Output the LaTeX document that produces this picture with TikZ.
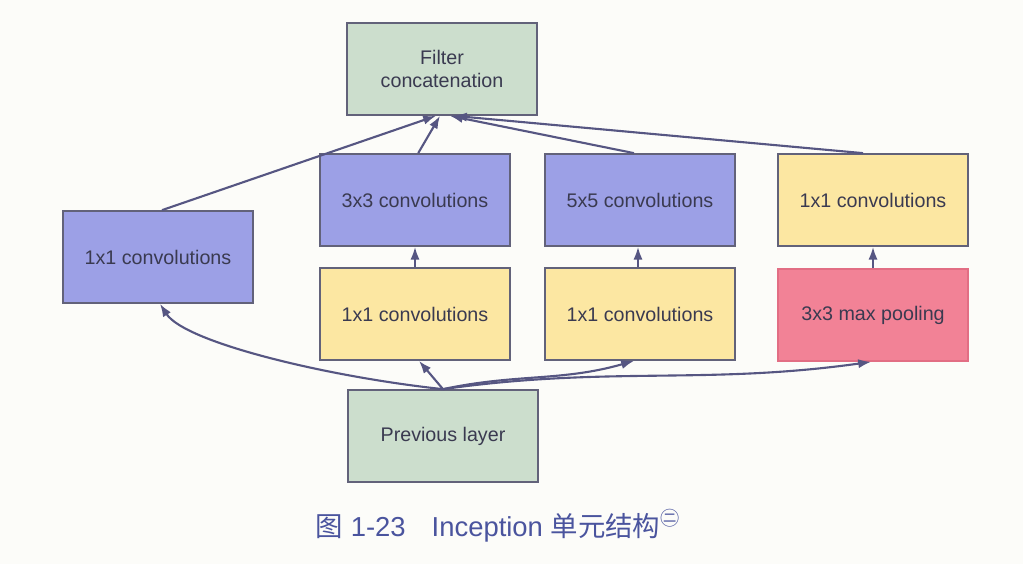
\documentclass[tikz,border=0pt]{standalone}
\usepackage{fontspec}
\setmainfont{Liberation Sans}
\newfontfamily\cjk{Noto Sans CJK SC}
\usetikzlibrary{arrows.meta}
\definecolor{bggray}{RGB}{252,252,249}
\definecolor{edgegray}{RGB}{98,98,122}
\definecolor{arrowgray}{RGB}{86,86,130}
\definecolor{textgray}{RGB}{58,58,80}
\definecolor{layergreen}{RGB}{204,222,205}
\definecolor{convblue}{RGB}{156,160,230}
\definecolor{convyellow}{RGB}{252,231,162}
\definecolor{poolpink}{RGB}{242,130,150}
\definecolor{pooledge}{RGB}{226,110,132}
\definecolor{captionblue}{RGB}{74,84,158}
\begin{document}
\begin{tikzpicture}[x=0.025cm, y=-0.025cm,
    box/.style = {draw=edgegray, line width=1.2pt, text=textgray, font=\fontsize{14}{17}\selectfont,
                  minimum width=4.75cm, minimum height=2.3cm, inner sep=0pt, align=center},
    green/.style = {box, fill=layergreen},
    blue/.style = {box, fill=convblue},
    yellow/.style = {box, fill=convyellow},
    pool/.style = {box, fill=poolpink, draw=pooledge},
    link/.style = {draw=arrowgray, line width=1.5pt, -{Latex[length=3.2mm,width=2.3mm]}}]
    \fill[bggray] (0,0) rectangle (1023,564);
    \useasboundingbox (0,0) rectangle (1023,564);
		\node[green] (concat) at (442,69) {Filter\\concatenation};
		\node[blue] (c1l) at (158,257) {1x1 convolutions};
		\node[blue] (c3) at (415,200) {3x3 convolutions};
		\node[blue] (c5) at (640,200) {5x5 convolutions};
		\node[yellow] (c1r) at (873,200) {1x1 convolutions};
		\node[yellow] (r3) at (415,314) {1x1 convolutions};
		\node[yellow] (r5) at (640,314) {1x1 convolutions};
		\node[pool] (mp) at (873,315) {3x3 max pooling};
		\node[green] (prev) at (443,436) {Previous layer};
		% from the previous layer
		\draw[link] (prev.north) .. controls +(-113,-12) and +(25,39) .. ([xshift=0.05cm]c1l.south);
		\draw[link] (prev.north) -- ([xshift=0.1cm]r3.south);
		\draw[link] (prev.north) to[out=12,in=196] ([xshift=-0.15cm]r5.south);
		\draw[link] (prev.north) to[out=8,in=188] ([xshift=-0.05cm]mp.south);
		% reductions
		\draw[link] (r3) -- (c3);
		\draw[link] ([xshift=-0.05cm]r5.north) -- ([xshift=-0.05cm]c5.north |- c5.south);
		\draw[link] (mp) -- (c1r);
		% into the concatenation
		\draw[link] ([xshift=0.1cm]c1l.north) -- ([xshift=-0.15cm]concat.south);
		\draw[link] ([xshift=0.08cm]c3.north) -- ([xshift=-0.05cm]concat.south);
		\draw[link] ([xshift=-0.15cm]c5.north) -- ([xshift=0.2cm]concat.south);
		\draw[link] ([xshift=-0.25cm]c1r.north) -- ([xshift=0.3cm]concat.south);
		\node[text=captionblue, font=\fontsize{19.5}{23}\selectfont] (caption) at (498,526)
		  {{\cjk 图} 1-23\hspace{0.65cm}Inception {\cjk 单元结构}\textsuperscript{\cjk ㊁}};
	\end{tikzpicture}
\end{document}
